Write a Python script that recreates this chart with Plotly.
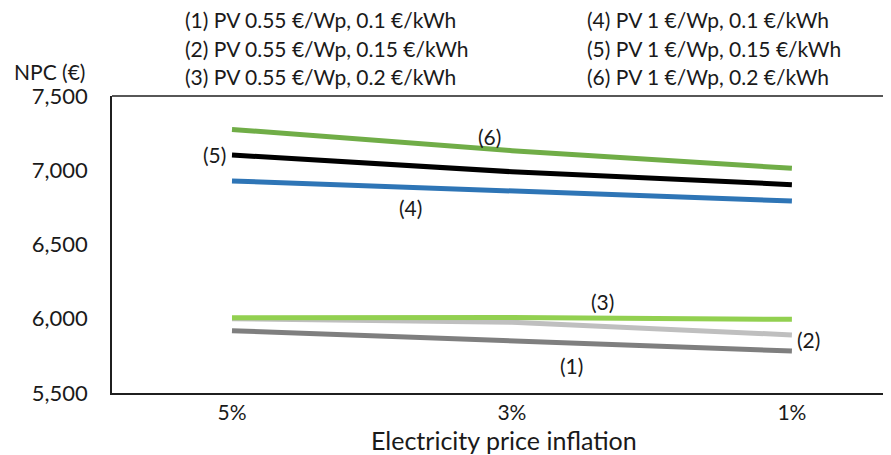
import plotly.graph_objects as go

categories = ["5%", "3%", "1%"]
series_names = [
    "(1) PV 0.55 €/Wp, 0.1 €/kWh",
    "(2) PV 0.55 €/Wp, 0.15 €/kWh",
    "(3) PV 0.55 €/Wp, 0.2 €/kWh",
    "(4) PV 1 €/Wp, 0.1 €/kWh",
    "(5) PV 1 €/Wp, 0.15 €/kWh",
    "(6) PV 1 €/Wp, 0.2 €/kWh",
]
s1 = [5920, 5852, 5783]
s2 = [6000, 5976, 5891]
s3 = [6007, 6009, 5996]
s4 = [6928, 6860, 6793]
s5 = [7103, 6990, 6903]
s6 = [7275, 7132, 7013]
series_values = [s1, s2, s3, s4, s5, s6]
colors = ["#7F7F7F", "#BFBFBF", "#92D050", "#2E75B6", "#000000", "#70AD47"]

# series tag labels: (text, x index, y value, xanchor)
tag_text = ["(1)", "(2)", "(3)", "(4)", "(5)", "(6)"]
tag_x = [1.214, 2.01, 1.325, 0.636, -0.015, 0.921]
tag_y = [5682, 5857, 6118, 6752, 7103, 7224]
tag_anchor = ["center", "left", "center", "center", "right", "center"]

y_ticks = [5500, 6000, 6500, 7000, 7500]
x_title = "Electricity price inflation"
y_title = "NPC (€)"

FONT = "Lato, Roboto, sans-serif"
TXT = "#1a1a1a"

fig = go.Figure()
for name, vals, col in zip(series_names, series_values, colors):
    fig.add_trace(go.Scatter(x=categories, y=vals, mode="lines", name=name,
                             line=dict(color=col, width=5), showlegend=False))

for t, x, y, a in zip(tag_text, tag_x, tag_y, tag_anchor):
    fig.add_annotation(x=x, y=y, text=t, showarrow=False,
                       xanchor=a, yanchor="middle", xref="x", yref="y",
                       font=dict(size=21, color=TXT, family=FONT))

# legend text (two columns, three rows)
leg_x = [0.0911, 0.0911, 0.0911, 0.607, 0.607, 0.607]
leg_y = [1.256, 1.1616, 1.064, 1.256, 1.1616, 1.064]
for name, x, y in zip(series_names, leg_x, leg_y):
    fig.add_annotation(x=x, y=y, xref="paper", yref="paper", text=name,
                       showarrow=False, xanchor="left", yanchor="middle",
                       font=dict(size=21, color=TXT, family=FONT))

fig.add_annotation(x=-0.128, y=1.081, xref="paper", yref="paper", text=y_title,
                   showarrow=False, xanchor="left", yanchor="middle",
                   font=dict(size=21, color=TXT, family=FONT))

fig.add_annotation(x=0.503, y=-0.158, xref="paper", yref="paper", text=x_title,
                   showarrow=False, xanchor="center", yanchor="middle",
                   font=dict(size=25, color=TXT, family=FONT))

# top frame line
fig.add_shape(type="line", xref="paper", yref="paper", x0=0, x1=1, y0=1, y1=1,
              line=dict(color="#1f1f1f", width=1.6))

# page body has an 8px default margin, so the figure is 16px smaller overall
fig.update_layout(
    width=883, height=447,
    margin=dict(l=104, r=0, t=88, b=62, autoexpand=False),
    paper_bgcolor="white", plot_bgcolor="white",
    font=dict(family=FONT, color=TXT, size=21),
    xaxis=dict(type="category", range=[-0.4286, 2.354], showgrid=False, automargin=False,
               showline=True, linecolor="#1f1f1f", linewidth=1.6, ticks="",
               tickfont=dict(size=21), ticklabelstandoff=0),
    yaxis=dict(range=[5500, 7500], tickvals=y_ticks, tickformat=",", showgrid=False,
               automargin=False,
               showline=True, linecolor="#1f1f1f", linewidth=1.6, ticks="",
               zeroline=False, tickfont=dict(size=22), ticklabelstandoff=18),
)

fig.write_html("out.html")
